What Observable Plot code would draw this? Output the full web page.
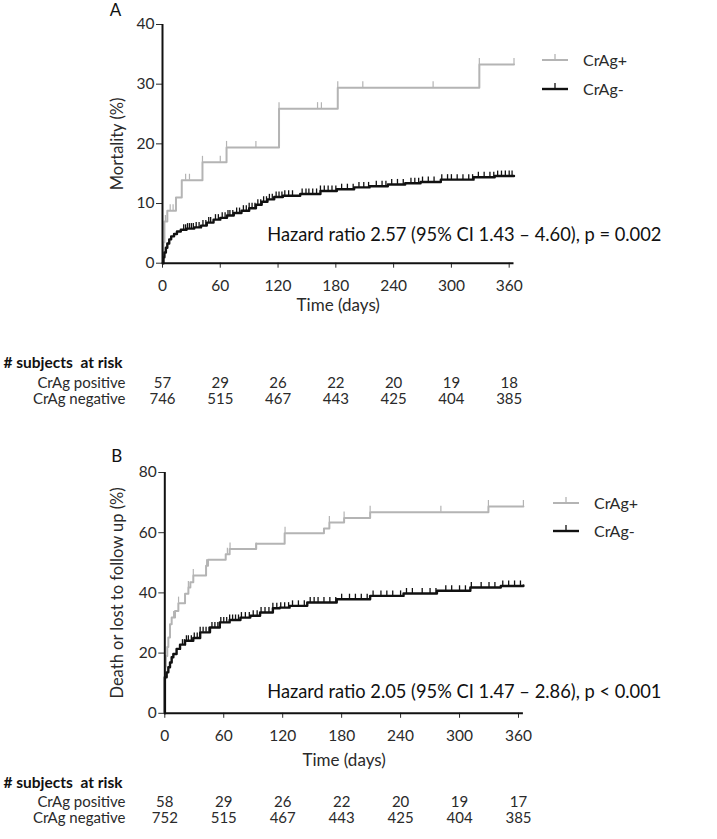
<!DOCTYPE html>
<html><head><meta charset="utf-8">
<script src="https://cdn.jsdelivr.net/npm/d3@7"></script>
<script src="https://cdn.jsdelivr.net/npm/@observablehq/plot@0.6"></script>
<style>
body{margin:0;background:#fff;font-family:Lato,sans-serif}
#wrap{position:relative;width:717px;height:839px;overflow:hidden}
.panel{position:absolute;left:0}
.panel svg{overflow:visible}
</style></head>
<body><div id="wrap"></div>
<script>
// ---------- data ----------
const xTicks = [0, 60, 120, 180, 240, 300, 360];
const riskTimes = [0, 60, 120, 180, 240, 300, 360];

// Panel A: mortality (%)
const mortPos = [[0,0],[1,3.5],[2,7.0],[5,8.8],[14,11.0],[20,13.9],[41.5,16.9],[66.5,19.4],[121,25.9],[182,29.4],[329,33.3],[365,33.3]];
const mortNeg = [[0,0],[1,1.0],[2,1.8],[3.5,2.6],[5,3.3],[7,4.0],[9,4.5],[12,4.9],[15,5.3],[19,5.6],[25,5.8],[33,6.0],[40,6.3],[46,6.8],[53,7.3],[60,7.6],[67,8.0],[74,8.4],[82,8.8],[90,9.2],[97,9.8],[103,10.3],[109,10.7],[116,11.1],[125,11.3],[143,11.6],[164,12.1],[181,12.4],[199,12.7],[215,12.9],[234,13.2],[252,13.4],[268,13.6],[289,14.0],[323,14.4],[345,14.6],[365,14.6]];
const mortPosCensor = [3,8,11,24,28,41.5,60,66.5,97,121,161,165,182,208,281,329,365];
const mortNegCensor = [22,24,26,28,30,32,35,38,42,45,48,50,55,58,62,65,68,70,73,77,80,84,87,90,93,96,99,102,105,108,111,114,118,121,124,127,131,135,145,149,152,156,160,164,168,172,176,180,186,192,198,204,209,214,222,228,232,238,244,250,258,262,266,270,276,282,290,296,300,306,312,318,322,328,334,340,344,348,352,356,360,363];
const riskPosA = [57, 29, 26, 22, 20, 19, 18];
const riskNegA = [746, 515, 467, 443, 425, 404, 385];

// Panel B: death or lost to follow up (%)
const dlPos = [[0,0],[0.5,15.5],[1.2,19.0],[2.5,22.0],[3.6,25.2],[5.3,29.6],[7,31.8],[10.4,34.0],[13.8,36.6],[20.6,39.7],[24,41.8],[26,43.5],[29,45.8],[42,49.0],[44,51.0],[62,52.8],[66,54.6],[93,56.3],[122,59.8],[162,61.4],[167.5,63.4],[182.5,64.9],[209,66.8],[329.4,68.7],[365,68.7]];
const dlNeg = [[0,0],[0,12.0],[1.9,13.6],[3.6,15.3],[5.3,16.9],[7,18.6],[8.7,19.7],[12,21.4],[15.5,22.8],[20.6,24.1],[29,25.0],[36,26.9],[46,28.5],[56,30.2],[66,31.0],[77,31.8],[87,32.4],[97,33.5],[110,34.9],[117,35.1],[127,35.7],[145,36.8],[175,37.9],[209,39.0],[243,39.8],[277,40.7],[311,41.8],[342,42.3],[365,42.5]];
const dlPosCensor = [9,14,24,29,42.6,63.7,66.4,92.9,122.4,167.5,182.5,209,281,329.4,365];
const dlNegCensor = [18,20,22,24,27,30,33,36,39,42,45,48,51,54,57,60,63,66,69,72,75,78,82,86,90,94,98,102,106,110,114,118,122,126,130,136,142,148,152,156,162,168,174,180,188,194,200,206,212,220,226,232,240,246,252,262,270,276,286,292,300,306,312,322,330,336,344,350,356,362];
const riskPosB = [58, 29, 26, 22, 20, 19, 17];
const riskNegB = [752, 515, 467, 443, 425, 404, 385];

const GRAY = "#b4b4b4", BLACK = "#111";

function stepValue(curve, t) {
  let v = 0;
  for (const [d, y] of curve) { if (d <= t) v = y; else break; }
  return v;
}

function panel(c) {
  const rowLabelDx = -(c.mLeft - 125);
  const T = {lineAnchor: "middle"};
  const chart = Plot.plot({
    width: 717, height: c.height,
    marginTop: c.mTop, marginBottom: c.mBottom, marginLeft: c.mLeft, marginRight: c.mRight,
    style: {fontFamily: "Lato, sans-serif", fontSize: "15.5px", color: "#2a2a2a", background: "transparent", overflow: "visible"},
    x: {domain: [0, 365], ticks: xTicks, tickSize: 5, tickPadding: 12, label: null},
    y: {domain: [0, c.yMax], ticks: c.yTicks, tickSize: 6, tickPadding: 2, label: null},
    marks: [
      Plot.line(c.pos, {x: d => d[0], y: d => d[1], curve: "step-after", stroke: GRAY, strokeWidth: 2}),
      Plot.ruleX(c.posC, {x: d => d, y1: d => stepValue(c.pos, d), y2: d => stepValue(c.pos, d), insetTop: -6, stroke: GRAY, strokeWidth: 1.2}),
      Plot.line(c.neg, {x: d => d[0], y: d => d[1], curve: "step-after", stroke: BLACK, strokeWidth: 2.4}),
      Plot.ruleX(c.negC, {x: d => d, y1: d => stepValue(c.neg, d), y2: d => stepValue(c.neg, d), insetTop: -5, stroke: BLACK, strokeWidth: 1.3}),
      Plot.ruleY([0], {stroke: "#111", strokeWidth: 2}),
      Plot.ruleX([0], {stroke: "#111", strokeWidth: 2}),
      Plot.text([c.letter], {...T, frameAnchor: "top-left", textAnchor: "middle", dx: c.letterDx, dy: c.letterDy, fontSize: 17, fill: "#111"}),
      Plot.text([c.yLabel], {...T, frameAnchor: "left", textAnchor: "middle", rotate: -90, dx: -(c.mLeft - 117), fontSize: 16.5}),
      Plot.text(["Time (days)"], {...T, frameAnchor: "bottom", dy: c.timeDy, fontSize: 17}),
      Plot.text([c.hr], {...T, frameAnchor: "bottom-left", textAnchor: "start", dx: c.hrDx, dy: c.hrDy, fontSize: 18.3, fill: "#111"}),
      Plot.text(["# subjects  at risk"], {...T, frameAnchor: "bottom-left", textAnchor: "start", dx: -(c.mLeft - 3), dy: c.riskDy[0], fontSize: 15.5, fontWeight: "bold", fill: "#111"}),
      Plot.text(["CrAg positive"], {...T, frameAnchor: "bottom-left", textAnchor: "end", dx: rowLabelDx, dy: c.riskDy[1], fontSize: 15}),
      Plot.text(["CrAg negative"], {...T, frameAnchor: "bottom-left", textAnchor: "end", dx: rowLabelDx, dy: c.riskDy[2], fontSize: 15}),
      Plot.text(riskTimes, {...T, x: d => d, text: (d, i) => c.riskPos[i], frameAnchor: "bottom", dy: c.riskDy[1], fontSize: 15}),
      Plot.text(riskTimes, {...T, x: d => d, text: (d, i) => c.riskNeg[i], frameAnchor: "bottom", dy: c.riskDy[2], fontSize: 15})
    ]
  });
  const div = document.createElement("div");
  div.className = "panel";
  div.style.top = c.top + "px";
  div.appendChild(chart);
  // legend
  const L = c.legend;
  const ns = "http://www.w3.org/2000/svg";
  const lg = document.createElementNS(ns, "svg");
  lg.setAttribute("width", 717); lg.setAttribute("height", c.height);
  lg.style.position = "absolute"; lg.style.left = "0"; lg.style.top = "0";
  [["CrAg+", GRAY, L.y1, 2], ["CrAg-", BLACK, L.y2, 2.4]].forEach(([name, col, y, w]) => {
    const ln = document.createElementNS(ns, "line");
    ln.setAttribute("x1", L.x); ln.setAttribute("x2", L.x + 26); ln.setAttribute("y1", y); ln.setAttribute("y2", y);
    ln.setAttribute("stroke", col); ln.setAttribute("stroke-width", w);
    lg.appendChild(ln);
    const tk = document.createElementNS(ns, "line");
    tk.setAttribute("x1", L.x + 13); tk.setAttribute("x2", L.x + 13); tk.setAttribute("y1", y - 6); tk.setAttribute("y2", y);
    tk.setAttribute("stroke", col); tk.setAttribute("stroke-width", 1.3);
    lg.appendChild(tk);
    const tx = document.createElementNS(ns, "text");
    tx.setAttribute("x", L.x + 41); tx.setAttribute("y", y); tx.setAttribute("dy", "0.35em");
    tx.setAttribute("font-family", "Lato, sans-serif"); tx.setAttribute("font-size", 16); tx.setAttribute("fill", "#2a2a2a");
    tx.textContent = name;
    lg.appendChild(tx);
  });
  div.appendChild(lg);
  document.getElementById("wrap").appendChild(div);
}

panel({
  top: 0, height: 410, mTop: 24, mBottom: 147.3, mLeft: 162, mRight: 203.5,
  yMax: 40, yTicks: [0, 10, 20, 30, 40], yLabel: "Mortality (%)", letter: "A", letterDx: -47, letterDy: -13.5,
  pos: mortPos, neg: mortNeg, posC: mortPosCensor, negC: mortNegCensor,
  hr: "Hazard ratio 2.57 (95% CI 1.43 \u2013 4.60), p = 0.002", hrDx: 104.7, hrDy: -27.7,
  timeDy: 42, riskDy: [100, 119.6, 136.2], riskPos: riskPosA, riskNeg: riskNegA,
  legend: {x: 542, y1: 60, y2: 89}
});
panel({
  top: 410, height: 429, mTop: 62, mBottom: 126.2, mLeft: 164.3, mRight: 194.1,
  yMax: 80, yTicks: [0, 20, 40, 60, 80], yLabel: "Death or lost to follow up (%)", letter: "B", letterDx: -48, letterDy: -16,
  pos: dlPos, neg: dlNeg, posC: dlPosCensor, negC: dlNegCensor,
  hr: "Hazard ratio 2.05 (95% CI 1.47 \u2013 2.86), p < 0.001", hrDx: 102.4, hrDy: -21,
  timeDy: 47, riskDy: [70.2, 88.4, 105.2], riskPos: riskPosB, riskNeg: riskNegB,
  legend: {x: 553, y1: 93, y2: 121}
});
</script>
</body></html>
